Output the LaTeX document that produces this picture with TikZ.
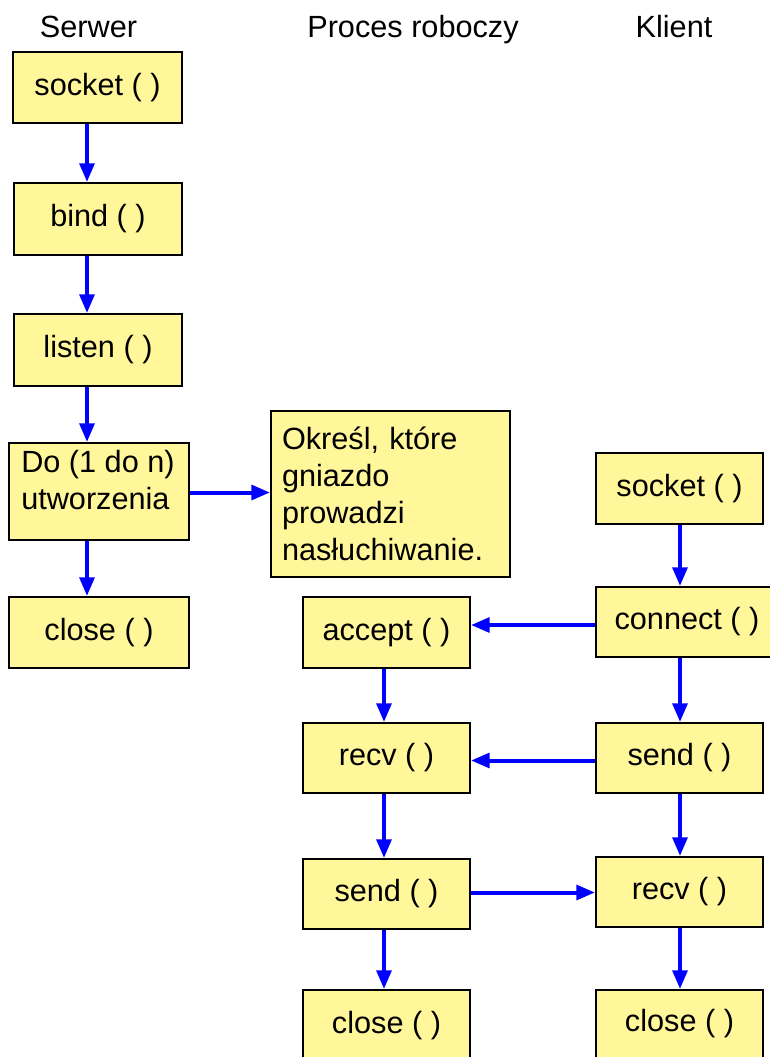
\documentclass[tikz,border=0pt]{standalone}
\usepackage{fontspec}
\setmainfont{Liberation Sans}
\usetikzlibrary{arrows.meta,calc}
\definecolor{boxfill}{RGB}{255,247,153}
\definecolor{arrblue}{RGB}{0,0,255}
\newcommand\diafont{\fontsize{23}{27.75}\selectfont}
\tikzset{
  box/.style={draw=black, line width=1.5pt, fill=boxfill, inner sep=0pt,
    minimum width=125.25pt, minimum height=53.25pt, font=\diafont},
  ttl/.style={font=\diafont, inner sep=0pt, anchor=base},
  arr/.style={draw=arrblue, line width=3pt, -{Triangle[length=14pt,width=11pt]}}
}
\begin{document}
\begin{tikzpicture}[x=0.75pt,y=-0.75pt]
\useasboundingbox (0,0) rectangle (770,1057);
\clip (0,0) rectangle (770,1057);
% titles
\node[ttl] (tserv) at (88.5,37) {Serwer};
\node[ttl] (twork) at (413,37) {Proces roboczy};
\node[ttl] (tcli) at (674,37) {Klient};
% server column
\node[box, minimum width=126.75pt] (ssock) at (97.5,87.5) {socket ( )};
\node[box, minimum width=126pt, minimum height=54pt] (sbind) at (98,219) {bind ( )};
\node[box, minimum width=126pt, minimum height=54pt] (slisten) at (98,350) {listen ( )};
\node[box, minimum width=135pt, minimum height=72.75pt] (sdo) at (99,491.5) {};
\node[font=\diafont, inner sep=0pt, anchor=north west, align=left] (sdotext) at (21,450) {Do (1 do n)\\utworzenia};
\node[box, minimum width=135pt] (sclose) at (99,632.5) {close ( )};
% note
\node[box, minimum width=179.25pt, minimum height=124.5pt, inner xsep=8.25pt,
  text width=162.75pt, align=left] (note) at (390.5,494)
  {Określ, które\\gniazdo\\prowadzi\\nasłuchiwanie.};
% worker column
\node[box] (accept) at (386.5,632.5) {accept ( )};
\node[box, minimum height=52.5pt] (wrecv) at (386.5,758) {recv ( )};
\node[box, minimum height=52.5pt] (wsend) at (386.5,894) {send ( )};
\node[box, minimum height=54pt, text depth=0pt] (wclose) at (386.5,1026) {\raisebox{6pt}{close ( )}};
% client column
\node[box] (csock) at (679.5,488.5) {socket ( )};
\node[box, minimum width=136.5pt, minimum height=52.5pt] (connect) at (687,622) {connect ( )};
\node[box, minimum height=52.5pt] (csend) at (679.5,758) {send ( )};
\node[box, minimum height=52.5pt] (crecv) at (679.5,892) {recv ( )};
\node[box, minimum height=54pt, text depth=0pt] (cclose) at (679.5,1026) {\raisebox{8pt}{close ( )}};
% helper coordinates
\coordinate (sx) at (87,0);
\coordinate (wx) at (384,0);
\coordinate (cx) at (680,0);
\coordinate (h1) at (0,492.5);
\coordinate (h2) at (0,625);
\coordinate (h3) at (0,760.5);
\coordinate (h4) at (0,892.5);
% vertical arrows
\draw[arr] (ssock.south -| sx) -- (sbind.north -| sx);
\draw[arr] (sbind.south -| sx) -- (slisten.north -| sx);
\draw[arr] (slisten.south -| sx) -- (sdo.north -| sx);
\draw[arr] (sdo.south -| sx) -- (sclose.north -| sx);
\draw[arr] (accept.south -| wx) -- (wrecv.north -| wx);
\draw[arr] (wrecv.south -| wx) -- (wsend.north -| wx);
\draw[arr] (wsend.south -| wx) -- (wclose.north -| wx);
\draw[arr] (csock.south -| cx) -- (connect.north -| cx);
\draw[arr] (connect.south -| cx) -- (csend.north -| cx);
\draw[arr] (csend.south -| cx) -- (crecv.north -| cx);
\draw[arr] (crecv.south -| cx) -- (cclose.north -| cx);
% horizontal arrows
\draw[arr] (sdo.east |- h1) -- (note.west |- h1);
\draw[arr] (connect.west |- h2) -- (accept.east |- h2);
\draw[arr] (csend.west |- h3) -- (wrecv.east |- h3);
\draw[arr] (wsend.east |- h4) -- (crecv.west |- h4);
\end{tikzpicture}
\end{document}
